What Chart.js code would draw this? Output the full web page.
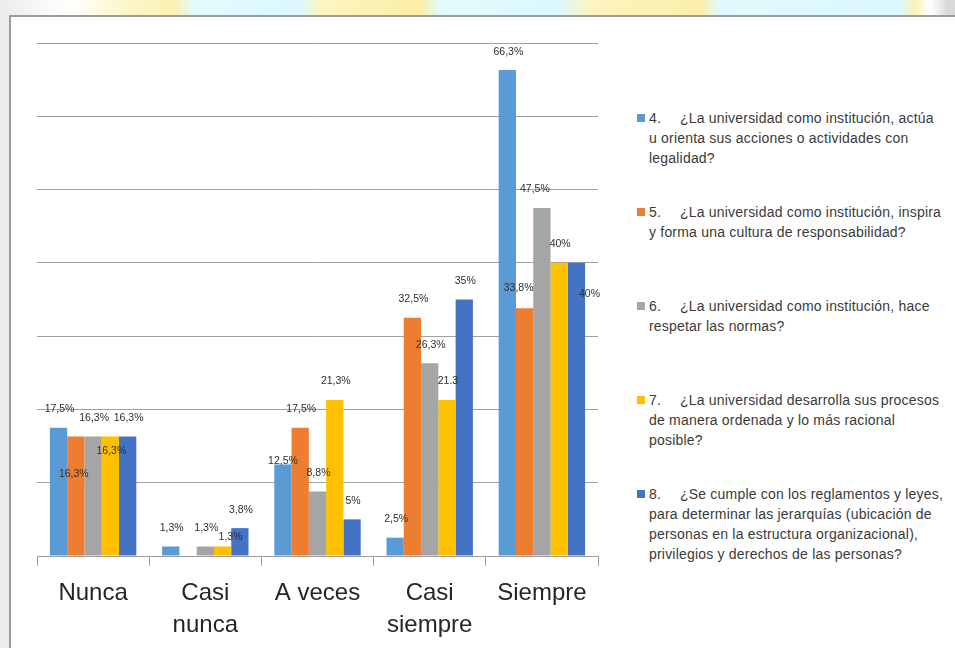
<!DOCTYPE html>
<html lang="es">
<head>
<meta charset="utf-8">
<title>Percepción de la legalidad institucional</title>
<script src="https://cdn.jsdelivr.net/npm/chart.js@4/dist/chart.umd.min.js"></script>
<style>
  html, body { margin: 0; padding: 0; }
  body {
    width: 955px; height: 648px; overflow: hidden; position: relative;
    background: linear-gradient(90deg, #ececec 0px, #f7f7f7 40px, #ffffff 70px,
      #fdf7cf 120px, #fbf1b2 175px, #e3fbff 195px, #dcf8fd 300px,
      #fdf5c2 320px, #fbeea6 420px, #e2fbfe 440px, #dcf8fd 560px,
      #fdf4c0 590px, #fbefa9 700px, #e0fafe 720px, #dcf7fc 900px,
      #fbf2b5 915px, #ffffff 930px, #d9d9d9 948px);
    font-family: "Liberation Sans", Arial, sans-serif;
  }
  #frame {
    position: absolute; left: 9px; top: 15px; width: 960px; height: 650px;
    background: #ffffff; border-left: 2px solid #9c9c9c; border-top: 2px solid #9c9c9c;
    box-sizing: border-box;
  }
  #chart { position: absolute; left: 0; top: 0; }
  #legend { position: absolute; left: 637px; top: 0; width: 318px; height: 648px; }
  .item { position: absolute; left: 0; font-size: 14px; letter-spacing: 0.2px; line-height: 20px; color: #3a3a3a; white-space: nowrap; }
  .sw { position: absolute; left: 0; top: 6px; width: 8px; height: 8px; }
  .txt { position: absolute; left: 12px; top: 0; }
  .num { display: inline-block; width: 31px; }
</style>
</head>
<body>
<div id="frame"></div>
<canvas id="chart" width="620" height="648"></canvas>
<div id="legend"></div>
<script>
// Response categories along the x axis (multi-line where the label wraps)
const categories = [["Nunca"], ["Casi", "nunca"], ["A veces"], ["Casi", "siempre"], ["Siempre"]];

// Question numbers and wrapped wording for each series
const questionNumbers = ["4.", "5.", "6.", "7.", "8."];
const questionLines = [
  ["¿La universidad como institución, actúa", "u orienta sus acciones o actividades con", "legalidad?"],
  ["¿La universidad como institución, inspira", "y forma una cultura de responsabilidad?"],
  ["¿La universidad como institución, hace", "respetar las normas?"],
  ["¿La universidad desarrolla sus procesos", "de manera ordenada y lo más racional", "posible?"],
  ["¿Se cumple con los reglamentos y leyes,", "para determinar las jerarquías (ubicación de", "personas en la estructura organizacional),", "privilegios y derechos de las personas?"]
];

// Percentages per series, one value per category
const q4 = [17.5, 1.3, 12.5, 2.5, 66.3];
const q5 = [16.3, 0, 17.5, 32.5, 33.8];
const q6 = [16.3, 1.3, 8.8, 26.3, 47.5];
const q7 = [16.3, 1.3, 21.3, 21.3, 40];
const q8 = [16.3, 3.8, 5, 35, 40];

// Value-axis range and step (gridlines only, no tick labels)
const yMax = 70;
const yStep = 10;

const seriesColors = ["#5B9BD5", "#ED7D31", "#A5A5A5", "#FFC000", "#4472C4"];
const seriesValues = [q4, q5, q6, q7, q8];

// Labels that were written differently from the usual "12,5%" style
const labelTextOverrides = { "3,3": "21.3" };

// Pixel nudges for value labels that sit away from the default spot above the bar
const labelNudges = {
  "1,0": [-3, 56], "3,0": [0, 33], "3,1": [7, 9], "0,2": [-1, 15],
  "1,4": [-7, -2], "2,4": [-8, 0], "4,4": [12, 50]
};

function formatValue(v) {
  const s = Number.isInteger(v) ? String(v) : v.toFixed(1).replace(".", ",");
  return s + "%";
}

const FONT = '"Liberation Sans", Arial, sans-serif';

const valueLabels = {
  id: "valueLabels",
  afterDatasetsDraw(chart) {
    const ctx = chart.ctx;
    ctx.save();
    ctx.font = "10.5px " + FONT;
    ctx.fillStyle = "#2e2e2e";
    ctx.textAlign = "center";
    ctx.textBaseline = "middle";
    chart.data.datasets.forEach((ds, si) => {
      const meta = chart.getDatasetMeta(si);
      meta.data.forEach((bar, ci) => {
        const v = ds.data[ci];
        if (!v) return;
        const key = si + "," + ci;
        const text = labelTextOverrides[key] || formatValue(v);
        const n = labelNudges[key] || [0, 0];
        ctx.fillText(text, bar.x + 1 + n[0], bar.y - 18.5 + n[1]);
      });
    });
    ctx.restore();
  }
};

new Chart(document.getElementById("chart"), {
  type: "bar",
  data: {
    labels: categories,
    datasets: seriesValues.map((vals, i) => ({
      label: questionNumbers[i] + " " + questionLines[i].join(" "),
      data: vals,
      backgroundColor: seriesColors[i],
      borderWidth: 0,
      barPercentage: 1,
      categoryPercentage: 0.77
    }))
  },
  options: {
    responsive: false,
    devicePixelRatio: 1,
    animation: false,
    layout: { padding: { left: 37, top: 43, right: 22, bottom: 2 } },
    plugins: { legend: { display: false }, tooltip: { enabled: false } },
    scales: {
      x: {
        grid: { offset: true, drawOnChartArea: false, drawTicks: true, tickLength: 10, color: "#a0a0a0" },
        border: { color: "#a0a0a0", width: 1 },
        ticks: {
          color: "#262626", padding: 11, maxRotation: 0, autoSkip: false,
          font: { family: FONT, size: 24, lineHeight: 32 / 24 }
        },
        afterFit(scale) { scale.height = 90; }
      },
      y: {
        min: 0, max: yMax,
        ticks: { display: false, stepSize: yStep },
        grid: { color: "#a0a0a0", drawTicks: false },
        border: { display: false },
        afterFit(scale) { scale.width = 0; }
      }
    }
  },
  plugins: [valueLabels]
});

// Legend with wrapped question text
const legend = document.getElementById("legend");
const legendTop = 108;
const legendStep = 94;
questionLines.forEach((lines, i) => {
  const item = document.createElement("div");
  item.className = "item";
  item.style.top = (legendTop + i * legendStep) + "px";
  const sw = document.createElement("div");
  sw.className = "sw";
  sw.style.background = seriesColors[i];
  const txt = document.createElement("div");
  txt.className = "txt";
  const first = document.createElement("div");
  const num = document.createElement("span");
  num.className = "num";
  num.textContent = questionNumbers[i];
  first.appendChild(num);
  first.appendChild(document.createTextNode(lines[0]));
  txt.appendChild(first);
  lines.slice(1).forEach(l => {
    const d = document.createElement("div");
    d.textContent = l;
    txt.appendChild(d);
  });
  item.appendChild(sw);
  item.appendChild(txt);
  legend.appendChild(item);
});
</script>
</body>
</html>
